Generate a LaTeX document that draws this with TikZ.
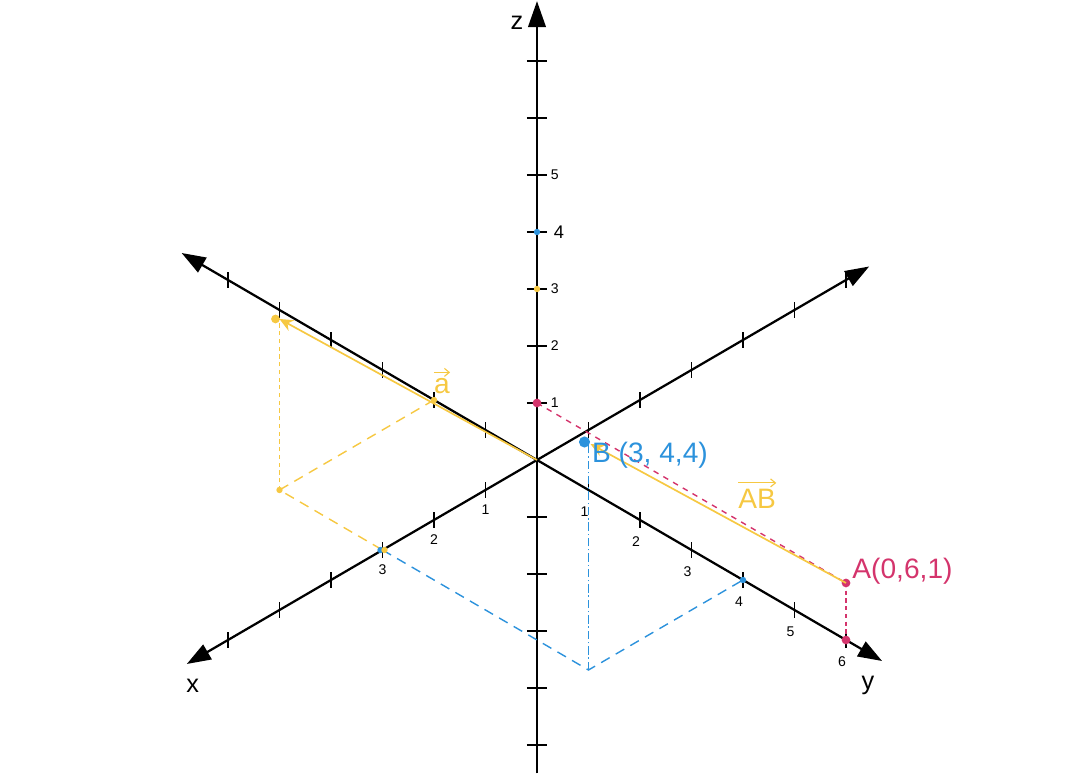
\documentclass[tikz,border=0pt]{standalone}
\usepackage{fontspec}
\setmainfont{Liberation Sans}
\usetikzlibrary{arrows.meta,calc}
\tikzset{
  axis/.style={line width=1.6pt, {Triangle[length=6mm,width=4.2mm]}-{Triangle[length=6mm,width=4.2mm]}},
  zaxis/.style={line width=1.6pt, -{Triangle[length=6.5mm,width=4.4mm]}},
  tick/.style={line width=1.4pt},
  vec/.style={line width=1.2pt, -{Stealth[length=3.4mm,width=3mm]}},
  overarrow/.style={line width=0.8pt, -{Straight Barb[length=1.2mm,width=2mm]}},
  proj/.style={line width=1pt, dash pattern=on 7pt off 5pt},
  drop/.style={line width=1.4pt, dash pattern=on 3pt off 2.5pt},
  pt/.style={circle, fill, inner sep=2.2pt},
  spt/.style={circle, fill, inner sep=1.6pt},
  ticklbl/.style={font=\fontsize{10}{12}\selectfont},
  axlbl/.style={font=\fontsize{18}{20}\selectfont},
  lbl/.style={font=\fontsize{20}{24}\selectfont, inner sep=1pt},
}
\definecolor{vecY}{RGB}{246,200,66}
\definecolor{ptB}{RGB}{44,146,220}
\definecolor{ptA}{RGB}{212,52,108}

\begin{document}
\begin{tikzpicture}[x={(-1.2875cm,-0.75cm)}, y={(1.2875cm,-0.75cm)}, z={(0cm,1.425cm)}]
  \useasboundingbox (-13.425cm,-7.85cm) rectangle (13.55cm,11.5cm);
  \coordinate (O) at (0,0,0);
  \coordinate (xneg) at (-6.45,0,0);
  \coordinate (xpos) at (6.8,0,0);
  \coordinate (yneg) at (0,-6.9,0);
  \coordinate (ypos) at (0,6.7,0);
  \coordinate (zneg) at (0,0,-5.5);
  \coordinate (zpos) at (0,0,8.05);
  % axes
  \draw[axis] (xneg) -- (xpos);
  \draw[axis] (yneg) -- (ypos);
  \draw[zaxis] (zneg) -- (zpos);
  \node[axlbl] (xl) at ([xshift=0.15cm,yshift=-0.55cm]xpos) {x};
  \node[axlbl] (yl) at ([xshift=-0.35cm,yshift=-0.6cm]ypos) {y};
  \node[axlbl] (zl) at ([xshift=-0.5cm,yshift=-0.55cm]zpos) {z};
  \foreach \k in {-6,...,-1,1,2,...,6} {
    \draw[tick] ([yshift=-0.2cm]\k,0,0) -- ([yshift=0.2cm]\k,0,0);
    \draw[tick] ([yshift=-0.2cm]0,\k,0) -- ([yshift=0.2cm]0,\k,0);
  }
  \foreach \k in {-5,...,-1,1,2,...,7}
    \draw[tick] ([xshift=-0.25cm]0,0,\k) -- ([xshift=0.25cm]0,0,\k);
  \foreach \k in {1,2,3,5}
    \node[ticklbl, anchor=west] (zt\k) at ([xshift=0.22cm]0,0,\k) {\k};
  \node[ticklbl, font=\fontsize{13}{14}\selectfont, anchor=west] (zt4) at ([xshift=0.3cm]0,0,4) {4};
  \foreach \k in {1,2,3}
    \node[ticklbl] (xt\k) at ([yshift=-0.48cm]\k,0,0) {\k};
  \foreach \k in {1,...,6}
    \node[ticklbl] (yt\k) at ([xshift=-0.1cm,yshift=-0.55cm]0,\k,0) {\k};

  % points
  \coordinate (A) at (0,6,1);
  \coordinate (Ay) at (0,6,0);
  \coordinate (Az) at (0,0,1);
  \coordinate (B) at (3,4,4);
  \coordinate (Bxy) at (3,4,0);
  \coordinate (Bx) at (3,0,0);
  \coordinate (By) at (0,4,0);
  \coordinate (Bz) at (0,0,4);
  \coordinate (P) at (3,-2,3);
  \coordinate (Pxy) at (3,-2,0);
  \coordinate (Py) at (0,-2,0);
  \coordinate (Pz) at (0,0,3);

  % projections
  \draw[ptA, line width=1pt, dash pattern=on 4pt off 4pt] (Az) -- (A);
  \draw[ptA, drop] (A) -- (Ay);
  \draw[proj, ptB] (Bx) -- (Bxy) -- (By);
  \draw[ptB, line width=1pt, dash pattern=on 6pt off 2pt on 1pt off 2pt] (Bxy) -- (B);
  \draw[proj, vecY] (Py) -- (Pxy) -- (Bx);
  \draw[drop, vecY] (Pxy) -- (P);

  % dots
  \node[pt, ptA] (dAz) at (Az) {};
  \node[pt, ptA] (dA) at (A) {};
  \node[pt, ptA] (dAy) at (Ay) {};
  \node[pt, ptB, inner sep=2.8pt] (dB) at ([xshift=-0.1cm]B) {};
  \node[spt, ptB] (dBz) at (Bz) {};
  \node[spt, ptB] (dBy) at (By) {};
  \node[spt, ptB] (dBx) at ([xshift=-0.05cm]Bx) {};
  \node[spt, vecY] (dPx) at ([xshift=0.05cm]Bx) {};
  \node[spt, vecY] (dPz) at (Pz) {};
  \node[spt, vecY] (dPy) at (Py) {};
  \node[spt, vecY] (dPxy) at (Pxy) {};
  \node[pt, vecY] (dP) at ([xshift=-0.1cm]P) {};

  % vectors
  \draw[vec, vecY] (O) -- (P);
  \draw[vec, vecY] (A) -- ([xshift=0.05cm,yshift=-0.05cm]B);

  % labels
  \node[lbl, ptA, anchor=west] (Alb) at ([xshift=0.12cm,yshift=0.3cm]A) {A(0,6,1)};
  \node[lbl, ptB, anchor=west] (Blb) at ([xshift=0.05cm,yshift=-0.33cm]B) {B (3, 4,4)};
  \node[lbl, vecY] (ABlb) at ([xshift=1cm,yshift=0.35cm]$(A)!0.5!(B)$) {AB};
  \node[lbl, vecY] (alb) at ([xshift=0.2cm,yshift=0.35cm]Py) {a};
  \draw[overarrow, vecY] ([xshift=1pt,yshift=3pt]ABlb.north west) -- ([xshift=-1pt,yshift=3pt]ABlb.north east);
  \draw[overarrow, vecY] ([xshift=1pt,yshift=3pt]alb.north west) -- ([xshift=-1pt,yshift=3pt]alb.north east);
\end{tikzpicture}
\end{document}
